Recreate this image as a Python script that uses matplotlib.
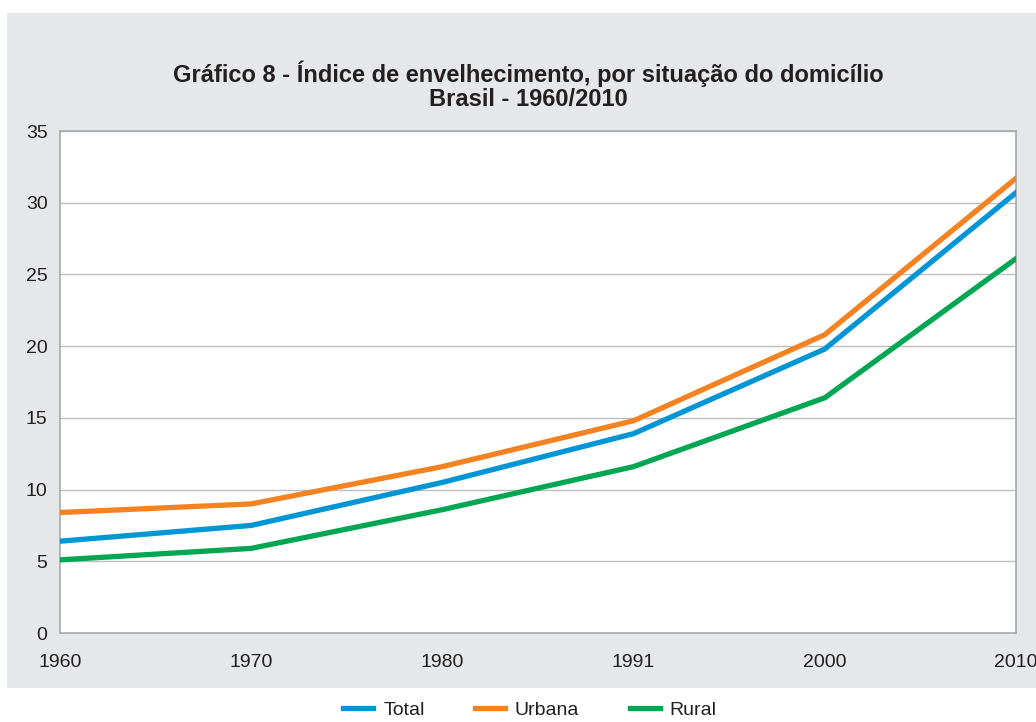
import matplotlib
matplotlib.use("Agg")
import matplotlib.pyplot as plt
from matplotlib.patches import Rectangle

# ── Data ──────────────────────────────────────────────────────────────────
anos = ["1960", "1970", "1980", "1991", "2000", "2010"]
total = [6.4, 7.5, 10.5, 13.9, 19.8, 30.7]
urbana = [8.4, 9.0, 11.6, 14.8, 20.8, 31.7]
rural = [5.1, 5.9, 8.6, 11.6, 16.4, 26.1]
y_ticks = [0, 5, 10, 15, 20, 25, 30, 35]

# ── Style ─────────────────────────────────────────────────────────────────
plt.rcParams["font.family"] = ["Liberation Sans", "DejaVu Sans"]
COL_TOTAL = "#0096d6"
COL_URBANA = "#f58220"
COL_RURAL = "#00a651"
BG_GRAY = "#e6e7e8"
GRID = "#bcbec0"
TEXT = "#231f20"
LW = 3.8

W, H = 1036, 722
fig = plt.figure(figsize=(W / 100, H / 100), dpi=100)

# gray panel behind the chart
fig.patches.append(Rectangle((7 / W, 1 - 688 / H), 1 - 7 / W, (688 - 13) / H,
                             transform=fig.transFigure, facecolor=BG_GRAY,
                             edgecolor="none", zorder=-10))

ax = fig.add_axes([60 / W, 1 - 633 / H, (1016 - 60) / W, (633 - 131) / H])
ax.set_facecolor("white")

x = list(range(len(anos)))
ax.plot(x, total, color=COL_TOTAL, lw=LW, label="Total", zorder=3)
ax.plot(x, urbana, color=COL_URBANA, lw=LW, label="Urbana", zorder=3)
ax.plot(x, rural, color=COL_RURAL, lw=LW, label="Rural", zorder=3)

ax.set_xlim(0, len(anos) - 1)
ax.set_ylim(0, 35)
ax.set_xticks(x)
ax.set_xticklabels(anos)
ax.set_yticks(y_ticks)
ax.tick_params(axis="both", length=0, labelsize=14, colors=TEXT)
ax.tick_params(axis="x", pad=15)
ax.tick_params(axis="y", pad=9)
ax.grid(axis="y", color=GRID, lw=1.0, zorder=1)
for s in ax.spines.values():
    s.set_color("#a7a9ac")
    s.set_linewidth(1.2)

fig.text(528 / W, 1 - 86 / H,
         "Gráfico 8 - Índice de envelhecimento, por situação do domicílio\n"
         "Brasil - 1960/2010",
         ha="center", va="center", fontsize=17, fontweight="bold",
         color=TEXT, linespacing=1.05)

fig.legend(loc="center", bbox_to_anchor=(530 / W, 1 - 710 / H), ncol=3,
           frameon=False, fontsize=14, handlelength=1.55, columnspacing=2.6,
           handletextpad=0.5, labelcolor=TEXT, borderpad=0.1)

fig.savefig("out.png", dpi=100)
